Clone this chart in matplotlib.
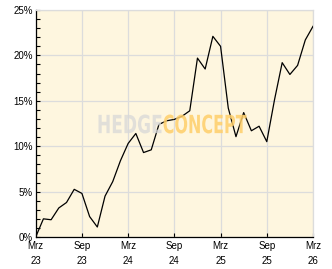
import matplotlib
matplotlib.use('Agg')
import matplotlib.pyplot as plt
from matplotlib.ticker import MultipleLocator, FuncFormatter
from matplotlib.textpath import TextPath
from matplotlib.patches import PathPatch
from matplotlib.font_manager import FontProperties
from matplotlib.transforms import Affine2D, IdentityTransform

# monthly performance (%), Mrz 23 .. Mrz 26
months = list(range(37))
perf = [0.0, 2.0, 1.9, 3.2, 3.8, 5.25, 4.8, 2.25, 1.1, 4.5,
        6.1, 8.4, 10.3, 11.4, 9.3, 9.6, 12.4, 12.8, 12.95, 13.3,
        13.9, 19.7, 18.5, 22.1, 21.0, 14.2, 11.05, 13.7, 11.7, 12.2,
        10.5, 15.1, 19.2, 17.9, 18.9, 21.7, 23.2]
xtick_pos = [0, 6, 12, 18, 24, 30, 36]
xtick_labels = ['Mrz\n23', 'Sep\n23', 'Mrz\n24', 'Sep\n24', 'Mrz\n25', 'Sep\n25', 'Mrz\n26']

plt.rcParams['font.family'] = ['Liberation Sans', 'DejaVu Sans']

W, H = 332, 269
fig = plt.figure(figsize=[W / 100, H / 100], dpi=100)
fig.patch.set_facecolor('white')
ax = fig.add_axes([35.7 / W, 1 - 237 / H, (313 - 35.7) / W, (237 - 10) / H])
ax.set_facecolor('#FEF6DF')

ax.grid(True, which='major', color='#DCDCDC', linewidth=0.9, zorder=1)
ax.plot(months, perf, '-', color='black', linewidth=0.9, zorder=3)

ax.set_xlim(0, 36)
ax.set_ylim(0, 25)
ax.set_xticks(xtick_pos)
ax.set_xticklabels(xtick_labels, fontsize=7, linespacing=1.55)
ax.yaxis.set_major_locator(MultipleLocator(5))
ax.yaxis.set_minor_locator(MultipleLocator(1))
ax.yaxis.set_major_formatter(FuncFormatter(lambda v, p: '%d%%' % v))
ax.tick_params(axis='both', which='both', direction='in', length=3.2, width=0.8,
               color='black', labelsize=7)
ax.tick_params(axis='y', which='both', pad=2)
ax.tick_params(axis='x', which='both', pad=3)
ax.tick_params(axis='x', which='both', top=False)
ax.tick_params(axis='y', which='both', right=False)

for s in ['left', 'bottom']:
    ax.spines[s].set_color('black')
    ax.spines[s].set_linewidth(0.9)
for s in ['top', 'right']:
    ax.spines[s].set_color('#DCDCDC')
    ax.spines[s].set_linewidth(0.9)


# watermark, squeezed into a fixed pixel box
def watermark(word, x0, x1, ytop, ybot, color, alpha):
    fp = FontProperties(family='DejaVu Sans', weight='bold')
    tp = TextPath((0, 0), word, size=10, prop=fp)
    ext = tp.get_extents()
    sx = (x1 - x0) / ext.width
    sy = (ybot - ytop) / ext.height
    tr = Affine2D().translate(-ext.x0, -ext.y0).scale(sx, sy).translate(x0, H - ybot)
    path = tr.transform_path(tp)
    fig.patches.append(PathPatch(path, transform=IdentityTransform(), facecolor=color,
                                 edgecolor='none', alpha=alpha, zorder=5, figure=fig))


watermark('HEDGE', 98.5, 161.5, 114.5, 133.5, '#D8D8D8', 0.75)
watermark('CONCEPT', 163.5, 246.5, 114.5, 133.5, '#FFCF6A', 0.85)

plt.savefig('out.png', dpi=100)
